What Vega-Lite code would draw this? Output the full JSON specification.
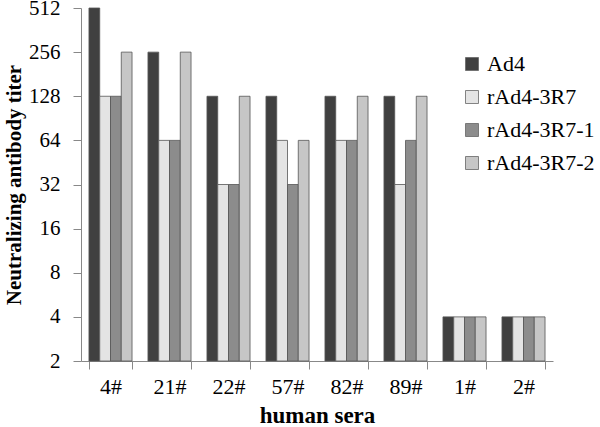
{
  "$schema": "https://vega.github.io/schema/vega-lite/v6.json",
  "autosize": {"type": "none"},
  "width": 472,
  "height": 353,
  "padding": {"left": 81, "top": 8, "right": 47, "bottom": 66},
  "background": "white",
  "data": {
    "values": [
      {"sera": "4#", "virus": "Ad4", "titer": 512},
      {"sera": "4#", "virus": "rAd4-3R7", "titer": 128},
      {"sera": "4#", "virus": "rAd4-3R7-1", "titer": 128},
      {"sera": "4#", "virus": "rAd4-3R7-2", "titer": 256},
      {"sera": "21#", "virus": "Ad4", "titer": 256},
      {"sera": "21#", "virus": "rAd4-3R7", "titer": 64},
      {"sera": "21#", "virus": "rAd4-3R7-1", "titer": 64},
      {"sera": "21#", "virus": "rAd4-3R7-2", "titer": 256},
      {"sera": "22#", "virus": "Ad4", "titer": 128},
      {"sera": "22#", "virus": "rAd4-3R7", "titer": 32},
      {"sera": "22#", "virus": "rAd4-3R7-1", "titer": 32},
      {"sera": "22#", "virus": "rAd4-3R7-2", "titer": 128},
      {"sera": "57#", "virus": "Ad4", "titer": 128},
      {"sera": "57#", "virus": "rAd4-3R7", "titer": 64},
      {"sera": "57#", "virus": "rAd4-3R7-1", "titer": 32},
      {"sera": "57#", "virus": "rAd4-3R7-2", "titer": 64},
      {"sera": "82#", "virus": "Ad4", "titer": 128},
      {"sera": "82#", "virus": "rAd4-3R7", "titer": 64},
      {"sera": "82#", "virus": "rAd4-3R7-1", "titer": 64},
      {"sera": "82#", "virus": "rAd4-3R7-2", "titer": 128},
      {"sera": "89#", "virus": "Ad4", "titer": 128},
      {"sera": "89#", "virus": "rAd4-3R7", "titer": 32},
      {"sera": "89#", "virus": "rAd4-3R7-1", "titer": 64},
      {"sera": "89#", "virus": "rAd4-3R7-2", "titer": 128},
      {"sera": "1#", "virus": "Ad4", "titer": 4},
      {"sera": "1#", "virus": "rAd4-3R7", "titer": 4},
      {"sera": "1#", "virus": "rAd4-3R7-1", "titer": 4},
      {"sera": "1#", "virus": "rAd4-3R7-2", "titer": 4},
      {"sera": "2#", "virus": "Ad4", "titer": 4},
      {"sera": "2#", "virus": "rAd4-3R7", "titer": 4},
      {"sera": "2#", "virus": "rAd4-3R7-1", "titer": 4},
      {"sera": "2#", "virus": "rAd4-3R7-2", "titer": 4}
    ]
  },
  "config": {
    "view": {"stroke": null},
    "font": "Liberation Serif"
  },
  "mark": {"type": "bar", "stroke": "#555555", "strokeWidth": 0.8},
  "encoding": {
    "x": {
      "field": "sera", "type": "nominal", "sort": null,
      "scale": {"paddingInner": 0.27, "paddingOuter": 0.135},
      "axis": {
        "title": "human sera", "titleFont": "Liberation Serif", "titleFontSize": 23, "titleFontWeight": "bold", "titleColor": "black", "titlePadding": 7,
        "labelFont": "Liberation Serif", "labelFontSize": 22, "labelColor": "black", "labelAngle": 0, "labelPadding": 7,
        "tickBand": "extent", "tickSize": 8, "tickColor": "#888888", "domainColor": "#888888", "grid": false
      }
    },
    "xOffset": {"field": "virus", "type": "nominal", "sort": ["Ad4", "rAd4-3R7", "rAd4-3R7-1", "rAd4-3R7-2"], "scale": {"paddingInner": 0, "paddingOuter": 0}},
    "y": {
      "field": "titer", "type": "quantitative",
      "scale": {"type": "log", "base": 2, "domain": [2, 512], "nice": false},
      "axis": {
        "title": "Neutralizing antibody titer", "titleFont": "Liberation Serif", "titleFontSize": 21, "titleFontWeight": "bold", "titleColor": "black", "titlePadding": 4,
        "values": [2, 4, 8, 16, 32, 64, 128, 256, 512],
        "labelFont": "Liberation Serif", "labelFontSize": 21, "labelColor": "black", "labelPadding": 13,
        "tickSize": 8, "tickColor": "#888888", "domainColor": "#888888", "grid": false
      }
    },
    "y2": {"datum": 2},
    "color": {
      "field": "virus", "type": "nominal", "sort": ["Ad4", "rAd4-3R7", "rAd4-3R7-1", "rAd4-3R7-2"],
      "scale": {"domain": ["Ad4", "rAd4-3R7", "rAd4-3R7-1", "rAd4-3R7-2"], "range": ["#404040", "#e4e4e4", "#8c8c8c", "#c6c6c6"]},
      "legend": {
        "title": null, "orient": "none", "legendX": 380, "legendY": 45,
        "symbolType": "square", "symbolSize": 169, "symbolStrokeColor": "#666666", "symbolStrokeWidth": 0.8,
        "labelFont": "Liberation Serif", "labelFontSize": 22, "labelColor": "black", "rowPadding": 11, "labelOffset": 4
      }
    }
  }
}
